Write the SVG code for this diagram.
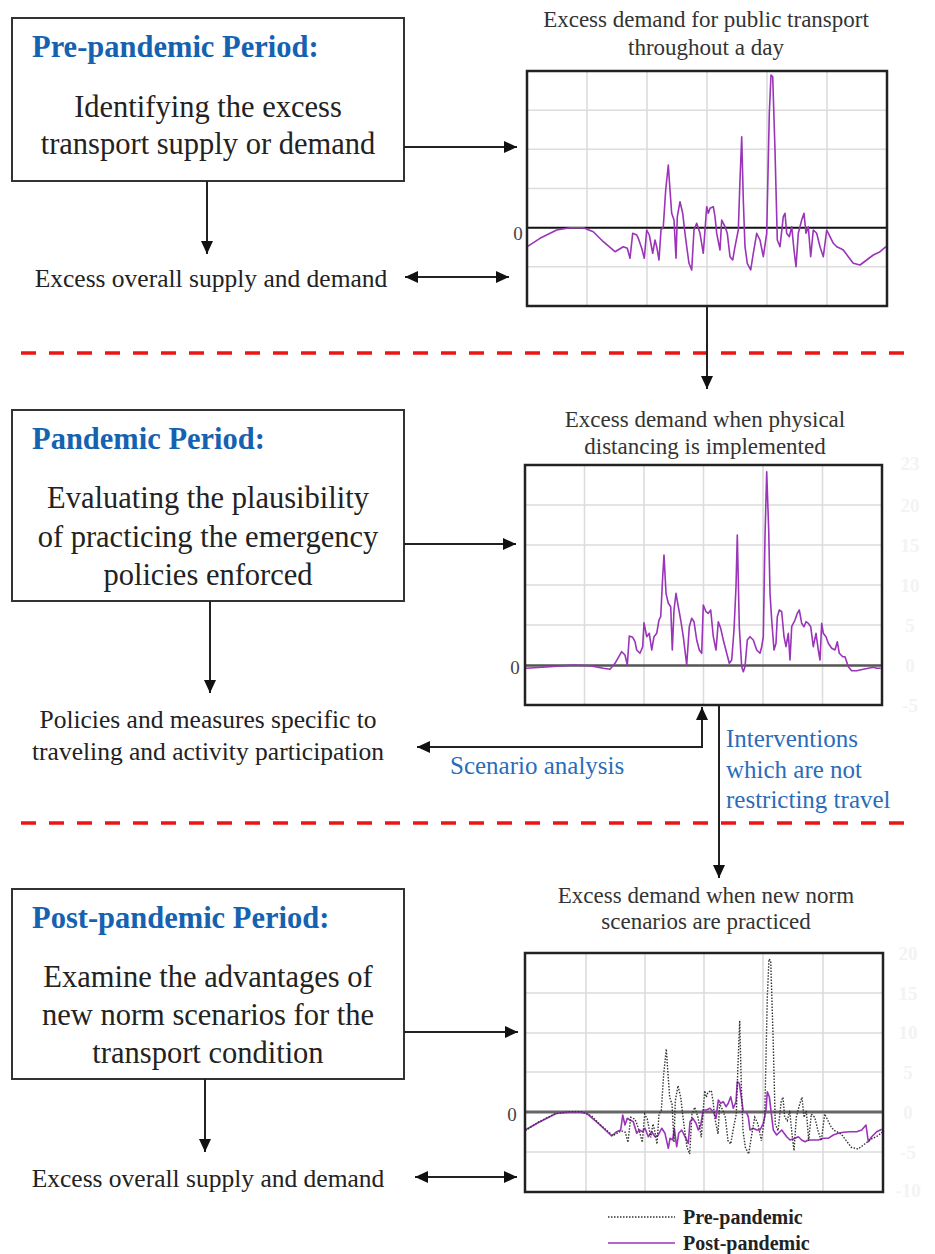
<svg xmlns="http://www.w3.org/2000/svg" xmlns:xlink="http://www.w3.org/1999/xlink" width="935" height="1254" viewBox="0 0 935 1254">
<style>
text{font-family:"Liberation Serif","Times New Roman",serif;}
.box{fill:#fff;stroke:#333;stroke-width:2;}
.title{font-weight:bold;font-size:30.5px;fill:#1462b0;}
.body{font-size:30.5px;fill:#222;text-anchor:middle;}
.small{font-size:25.5px;fill:#222;text-anchor:middle;}
.blue{font-size:25px;fill:#2a6cba;}
.ctitle{font-size:23px;fill:#333;text-anchor:middle;}
.zero{font-size:19px;fill:#444;text-anchor:middle;}
.faint{font-size:19px;font-weight:bold;fill:#f3f3f3;text-anchor:middle;}
.grid{stroke:#dcdcdc;stroke-width:1.6;fill:none;}
.frame{fill:none;stroke:#222;stroke-width:2.5;}
.purple{fill:none;stroke:#9a34b8;stroke-width:1.6;stroke-linejoin:round;}
.dotted{fill:none;stroke:#333;stroke-width:1.4;stroke-dasharray:1.5 1.5;}
.conn{fill:none;stroke:#222;stroke-width:2;}
.dash{stroke:#ee1414;stroke-width:3.5;stroke-dasharray:15 13;}
.legend{font-size:20px;font-weight:bold;fill:#222;}
</style>
<defs>
<marker id="ah" markerUnits="userSpaceOnUse" markerWidth="13" markerHeight="12" refX="13" refY="6" orient="auto-start-reverse" viewBox="0 0 13 12"><path d="M0,0 L13,6 L0,12 z" fill="#111"/></marker>
<path id="pre-curve" d="M527.3,246.7 L540,238.3 L556.7,230 L570,227.7 L583.3,227.7 L593.3,231.7 L603.3,241.7 L615,251.7 L623.3,246.7 L627.3,248.3 L630,258.3 L632.7,233.3 L636.7,235 L638.3,238.3 L641.7,248.3 L644.3,258.3 L646.7,230 L649.3,235 L652.7,253.3 L655,240 L656.7,246.7 L659,260 L661,230 L663.3,226.7 L665.7,190 L668.3,165 L670,190 L671.7,213.3 L674,220 L676,258.3 L677.3,216.7 L680,201.7 L682.7,213.3 L685,233.3 L686.7,246.7 L689,263.3 L691.7,270 L694,230 L696.7,223.3 L700,233.3 L703.3,253.3 L706.7,206.7 L708.3,213.3 L710,208.3 L713.3,206.7 L715,216.7 L716.7,233.3 L720,250 L721.7,220 L725,226.7 L727.3,233.3 L730,256.7 L732.7,260 L735,246.7 L738.3,230 L740,180 L741.7,136.7 L743.3,200 L745,246.7 L747.3,263.3 L750.7,270 L753.3,253.3 L756.7,233.3 L760,240 L763.3,256.7 L766.7,233.3 L769.3,113.3 L771,75 L772.7,76.7 L775,150 L777.3,240 L780,246.7 L783.3,216.7 L785,213.3 L786.7,233.3 L789.3,236.7 L791.7,226.7 L794,250 L796,266.7 L798.3,233.3 L801.7,220 L804,213.3 L806,233.3 L808.3,226.7 L810.7,256.7 L813.3,230 L816.7,233.3 L820,246.7 L823.3,256.7 L826.7,230 L830,236.7 L833.3,243.3 L836.7,246.7 L840,248.3 L843.3,250 L848.3,256.7 L853.3,263.3 L860,265 L866.7,260 L873.3,255 L880,251.7 L886,246.7"/>
</defs>
<rect width="935" height="1254" fill="#fff"/>

<!-- separators -->
<g id="separators">
<line class="dash" x1="21" y1="353" x2="907" y2="353"/>
<line class="dash" x1="21" y1="823" x2="907" y2="823"/>
</g>

<!-- Box nodes -->
<g id="pre-pandemic-box">
<rect class="box" x="12" y="18" width="392" height="163"/>
<text class="title" x="32" y="57">Pre-pandemic Period:</text>
<text class="body" x="208" y="117">Identifying the excess</text>
<text class="body" x="208" y="154">transport supply or demand</text>
</g>
<g id="pre-result">
<text class="small" x="211" y="287">Excess overall supply and demand</text>
</g>

<g id="pandemic-box">
<rect class="box" x="12" y="410" width="392" height="191"/>
<text class="title" x="32" y="449">Pandemic Period:</text>
<text class="body" x="208" y="508">Evaluating the plausibility</text>
<text class="body" x="208" y="547">of practicing the emergency</text>
<text class="body" x="208" y="585">policies enforced</text>
</g>
<g id="pandemic-result">
<text class="small" x="208" y="728">Policies and measures specific to</text>
<text class="small" x="208" y="760">traveling and activity participation</text>
</g>

<g id="post-pandemic-box">
<rect class="box" x="12" y="889" width="392" height="190"/>
<text class="title" x="32" y="928">Post-pandemic Period:</text>
<text class="body" x="208" y="987">Examine the advantages of</text>
<text class="body" x="208" y="1025">new norm scenarios for the</text>
<text class="body" x="208" y="1063">transport condition</text>
</g>
<g id="post-result">
<text class="small" x="208" y="1187">Excess overall supply and demand</text>
</g>

<!-- Chart 1 -->
<g id="chart-pre">
<text class="ctitle" x="706" y="27">Excess demand for public transport</text>
<text class="ctitle" x="706" y="55">throughout a day</text>
<path class="grid" d="M587,71V306M647,71V306M707,71V306M767,71V306M827,71V306M527,110.2H887M527,149.3H887M527,188.5H887M527,266.8H887"/>
<line x1="527" y1="227.7" x2="887" y2="227.7" stroke="#111" stroke-width="2"/>
<use href="#pre-curve" xlink:href="#pre-curve" class="purple"/>
<rect class="frame" x="527" y="71" width="360" height="235"/>
<text class="zero" x="518" y="240">0</text>
</g>

<!-- Chart 2 -->
<g id="chart-pandemic">
<text class="ctitle" x="705" y="427">Excess demand when physical</text>
<text class="ctitle" x="705" y="454">distancing is implemented</text>
<path class="grid" d="M584.5,465V705M644,465V705M703.5,465V705M763,465V705M822.5,465V705M525,505H882M525,545H882M525,585H882M525,625H882"/>
<line x1="525" y1="665.5" x2="882" y2="665.5" stroke="#555" stroke-width="2.5"/>
<path class="purple" d="M526,668.3 L550,666.7 L573.3,665 L590,665.7 L603.3,668.3 L610,669.3 L615,663.3 L621.7,651.7 L625,655 L627.3,665 L629.3,636 L632.7,637.3 L635,641.7 L636.7,650 L640,653.3 L642.7,646.7 L644,622.7 L646.7,636.7 L649.3,633.3 L651.7,650 L654,636.7 L656.7,633.3 L659,620 L660.7,616.7 L662.7,576.7 L664,555 L666,593.3 L668.3,603.3 L670.7,606.7 L672.3,650 L674,610 L676,593.3 L678.3,606.7 L680.7,620 L683.3,636.7 L686.7,665 L689.3,626.7 L691.7,618.3 L694,621.7 L696.7,640 L699.3,650 L701.7,653.3 L703.3,605 L706,611.7 L708.3,613.3 L710.7,610 L713.3,636.7 L716,650 L718.3,621.7 L720.7,628.3 L723.3,640 L726.7,653.3 L729.3,663.3 L731.7,660 L734,630 L736,586.7 L737.3,535 L739.3,626.7 L741.7,666.7 L743.3,671.7 L745,666.7 L747.3,640 L750,636.7 L753.3,640 L756.7,650 L760,653.3 L761.7,646.7 L763.3,636.7 L765,536.7 L766.7,471.7 L768.7,530 L770,593.3 L771.7,620 L774,650 L776,643.3 L777.3,616.7 L779.3,610 L781.7,611.7 L784,636.7 L786,646.7 L788.3,633.3 L790,660 L791.7,626.7 L795,620 L797.3,613.3 L799.3,610 L801.7,623.3 L804,626.7 L806,621.7 L808.3,623.3 L810.7,626.7 L813.3,646.7 L816,633.3 L818.3,650 L820,660 L821.7,623.3 L823.3,633.3 L826,636.7 L828.3,643.3 L831.7,648.3 L835,650 L837.3,641.7 L839.3,653.3 L842.7,656.7 L845,656.7 L848.3,666.7 L851.7,670.7 L856.7,670.7 L863.3,669.3 L868.3,668.3 L873.3,667.3 L876.7,668.3 L880.7,668.3"/>
<rect class="frame" x="525" y="465" width="357" height="240"/>
<text class="zero" x="515" y="674">0</text>
<text class="faint" x="910" y="470">23</text>
<text class="faint" x="910" y="512">20</text>
<text class="faint" x="910" y="552">15</text>
<text class="faint" x="910" y="592">10</text>
<text class="faint" x="910" y="632">5</text>
<text class="faint" x="910" y="672">0</text>
<text class="faint" x="910" y="712">-5</text>
</g>

<!-- Chart 3 -->
<g id="chart-post">
<text class="ctitle" x="706" y="903">Excess demand when new norm</text>
<text class="ctitle" x="706" y="929">scenarios are practiced</text>
<path class="grid" d="M586,953V1192M645,953V1192M704,953V1192M763,953V1192M823,953V1192M525,993H883M525,1033H883M525,1072H883M525,1152H883"/>
<line x1="525" y1="1112" x2="883" y2="1112" stroke="#666" stroke-width="3"/>
<path class="purple" d="M525,1130 L540,1121.7 L556.7,1113.3 L576.7,1111.7 L586.7,1113.3 L600,1125 L611.7,1136 L616.7,1131.7 L620.7,1130 L622.7,1115 L625,1125 L627.3,1118.3 L630,1120 L633.3,1121.7 L636.7,1133.3 L639.3,1130 L642.7,1131.7 L645,1128.3 L648.3,1136.7 L651.7,1131.7 L655,1136.7 L658.3,1135 L661.7,1128.3 L665,1133.3 L668.3,1148.3 L670,1138.3 L672.7,1140 L674.3,1128.3 L676.7,1146.7 L678.7,1133.3 L681.7,1130 L685,1136.7 L688.3,1143.3 L690,1121.7 L692.7,1118.3 L696,1123.3 L698.3,1130 L700.7,1125 L703.3,1110 L706.7,1110 L710,1108.3 L713.3,1111.7 L716,1118.3 L718.3,1100 L720.7,1103.3 L723.3,1101.7 L726,1106.7 L728.3,1103.3 L730.7,1096.7 L733.3,1108.3 L736,1101.7 L737.3,1081.7 L739.3,1083.3 L741.7,1100 L743.3,1111.7 L746,1111.7 L748.3,1116.7 L750,1130 L753.3,1128.3 L756.7,1130 L760,1130 L763.3,1123.3 L766,1110 L767.3,1091.7 L769.3,1096.7 L771.7,1116.7 L773.3,1130 L776.7,1135 L781.7,1130 L786.7,1136.7 L790,1140 L795,1138.3 L798.3,1136.7 L801.7,1140 L805,1141.7 L808.3,1140 L813.3,1140 L818.3,1140 L823.3,1138.3 L828.3,1138.3 L833.3,1135 L838.3,1133.3 L843.3,1132.3 L850,1131.7 L856.7,1131.7 L861.7,1130 L866,1125 L868.3,1141.7 L871.7,1136.7 L876.7,1131.7 L881.7,1129.3"/>
<use href="#pre-curve" xlink:href="#pre-curve" class="dotted" transform="translate(-2,884)"/>
<rect class="frame" x="525" y="953" width="358" height="239"/>
<text class="zero" x="512" y="1121">0</text>
<text class="faint" x="908" y="960">20</text>
<text class="faint" x="908" y="1000">15</text>
<text class="faint" x="908" y="1039">10</text>
<text class="faint" x="908" y="1079">5</text>
<text class="faint" x="908" y="1119">0</text>
<text class="faint" x="908" y="1159">-5</text>
<text class="faint" x="908" y="1197">-10</text>
</g>

<g id="legend">
<line class="dotted" x1="608" y1="1217" x2="675" y2="1217"/>
<text class="legend" x="683" y="1224">Pre-pandemic</text>
<line class="purple" x1="608" y1="1243" x2="675" y2="1243"/>
<text class="legend" x="683" y="1250">Post-pandemic</text>
</g>

<!-- connectors -->
<g id="connectors">
<line class="conn" x1="404" y1="147" x2="517" y2="147" marker-end="url(#ah)"/>
<line class="conn" x1="207" y1="181" x2="207" y2="254" marker-end="url(#ah)"/>
<line class="conn" x1="405" y1="277" x2="509" y2="277" marker-start="url(#ah)" marker-end="url(#ah)"/>
<line class="conn" x1="707" y1="306" x2="707" y2="389" marker-end="url(#ah)"/>
<line class="conn" x1="404" y1="544" x2="516" y2="544" marker-end="url(#ah)"/>
<line class="conn" x1="210" y1="601" x2="210" y2="693" marker-end="url(#ah)"/>
<polyline class="conn" points="417,747 702,747 702,707" marker-start="url(#ah)" marker-end="url(#ah)"/>
<line class="conn" x1="719" y1="705" x2="719" y2="878" marker-end="url(#ah)"/>
<line class="conn" x1="404" y1="1032" x2="518" y2="1032" marker-end="url(#ah)"/>
<line class="conn" x1="205" y1="1079" x2="205" y2="1152" marker-end="url(#ah)"/>
<line class="conn" x1="415" y1="1177" x2="517" y2="1177" marker-start="url(#ah)" marker-end="url(#ah)"/>
</g>

<g id="connector-labels">
<text class="blue" x="450" y="774">Scenario analysis</text>
<text class="blue" x="726" y="747">Interventions</text>
<text class="blue" x="726" y="778">which are not</text>
<text class="blue" x="726" y="808">restricting travel</text>
</g>
</svg>
